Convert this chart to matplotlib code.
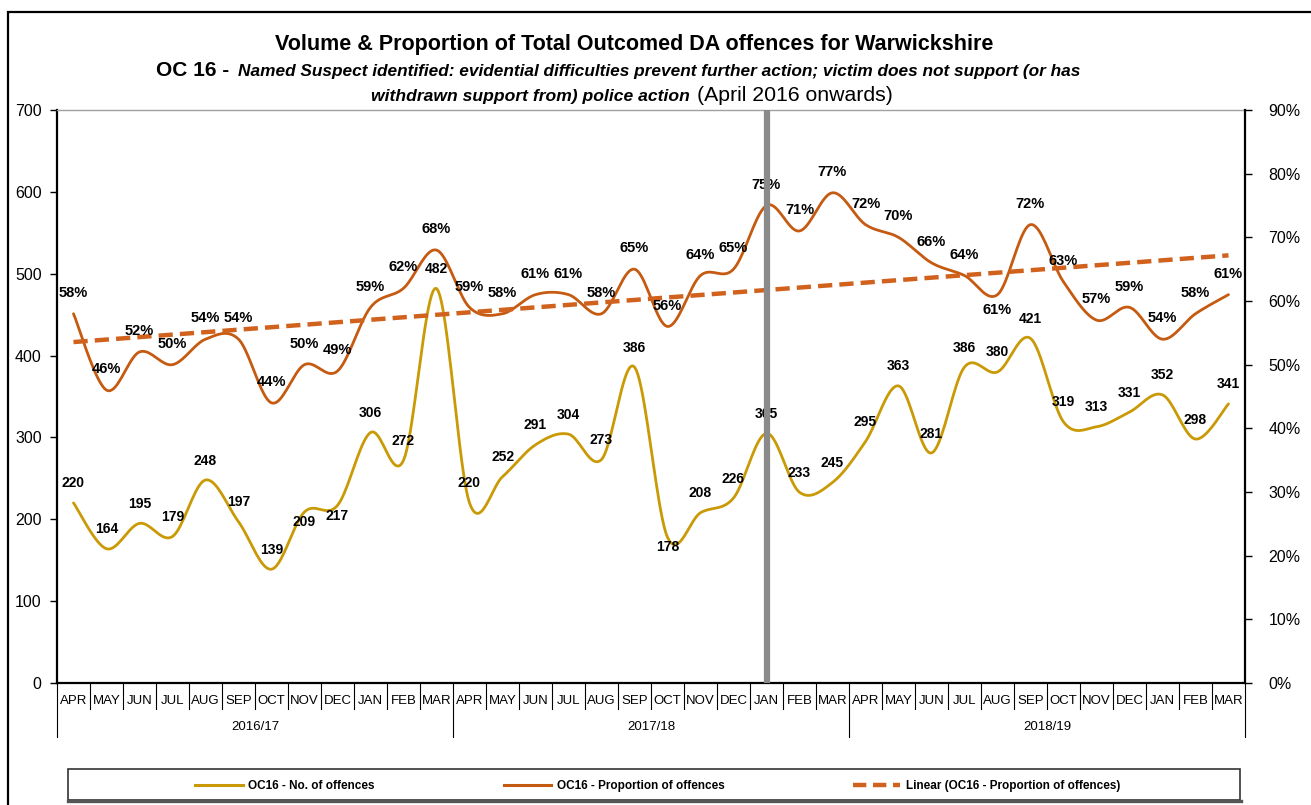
import numpy as np
import matplotlib
matplotlib.use('Agg')
import matplotlib.pyplot as plt
from matplotlib.patches import Rectangle
from matplotlib.lines import Line2D

plt.rcParams['font.family'] = ['Liberation Sans', 'DejaVu Sans']

# data, April 2016 to March 2019
months = ['APR', 'MAY', 'JUN', 'JUL', 'AUG', 'SEP', 'OCT', 'NOV', 'DEC', 'JAN', 'FEB', 'MAR'] * 3
years = ['2016/17', '2017/18', '2018/19']
offences = [220, 164, 195, 179, 248, 197, 139, 209, 217, 306, 272, 482,
            220, 252, 291, 304, 273, 386, 178, 208, 226, 305, 233, 245,
            295, 363, 281, 386, 380, 421, 319, 313, 331, 352, 298, 341]
proportion = [58, 46, 52, 50, 54, 54, 44, 50, 49, 59, 62, 68,
              59, 58, 61, 61, 58, 65, 56, 64, 65, 75, 71, 77,
              72, 70, 66, 64, 61, 72, 63, 57, 59, 54, 58, 61]

GOLD = '#C99A06'
ORANGE = '#C55A11'
TREND = '#D0621E'
W, H = 1311, 805


def smooth(xs, ys, steps=20):
    # bezier curve through the points, same idea as Excel's "smoothed line"
    xs = np.asarray(xs, float)
    ys = np.asarray(ys, float)
    px = np.concatenate([[xs[0]], xs, [xs[-1]]])
    py = np.concatenate([[ys[0]], ys, [ys[-1]]])
    t = np.linspace(0, 1, steps, endpoint=False)
    cx, cy = [], []
    for i in range(1, len(px) - 2):
        x1, y1 = px[i] + (px[i + 1] - px[i - 1]) / 6, py[i] + (py[i + 1] - py[i - 1]) / 6
        x2, y2 = px[i + 1] - (px[i + 2] - px[i]) / 6, py[i + 1] - (py[i + 2] - py[i]) / 6
        a, b, c, d = (1 - t) ** 3, 3 * (1 - t) ** 2 * t, 3 * (1 - t) * t ** 2, t ** 3
        cx.extend(a * px[i] + b * x1 + c * x2 + d * px[i + 1])
        cy.extend(a * py[i] + b * y1 + c * y2 + d * py[i + 1])
    cx.append(xs[-1])
    cy.append(ys[-1])
    return np.array(cx), np.array(cy)


def rich_line(fig, y_px, parts, center_px=632):
    # several text styles on one line, centred as a whole
    r = fig.canvas.get_renderer()
    texts = []
    for s, gap, kw in parts:
        t = fig.text(0, 1 - y_px / H, s, va='baseline', ha='left', **kw)
        texts.append((t, gap))
    widths = [t.get_window_extent(r).width + g for t, g in texts]
    x = center_px - sum(widths) / 2
    for (t, g), w in zip(texts, widths):
        t.set_x(x / W)
        x += w


fig = plt.figure(figsize=(W / 100, H / 100), dpi=100)
ax = fig.add_axes([57 / W, (H - 683) / H, (1245 - 57) / W, (683 - 110) / H])
ax2 = ax.twinx()

x = np.arange(len(months))

sx, sy = smooth(x, offences)
ax.plot(sx, sy, color=GOLD, lw=2.0, solid_capstyle='round')
sx, sy = smooth(x, proportion)
ax2.plot(sx, sy, color=ORANGE, lw=2.0, solid_capstyle='round')

m, c = np.polyfit(x, proportion, 1)
ax2.plot(x, m * x + c, color=TREND, lw=3.2, dashes=(3.2, 1.6))

ax2.axvline(21, color='#8a8a8a', lw=4.5, zorder=10)

ax.set_xlim(-0.5, len(months) - 0.5)
ax.set_ylim(0, 700)
ax2.set_ylim(0, 90)
ax.set_yticks(range(0, 701, 100))
ax2.set_yticks(range(0, 91, 10))
ax2.set_yticklabels([f'{v}%' for v in range(0, 91, 10)])
ax.set_xticks([])
ax.tick_params(axis='y', labelsize=11.5, length=5, width=1, pad=6)
ax2.tick_params(axis='y', labelsize=11.5, length=5, width=1, pad=12)

for s in ['left', 'bottom']:
    ax.spines[s].set_linewidth(1.6)
ax.spines['right'].set_visible(False)
ax.spines['top'].set_color('#a0a0a0')
ax.spines['top'].set_linewidth(1.0)
ax2.spines['right'].set_linewidth(1.6)
for s in ['left', 'bottom', 'top']:
    ax2.spines[s].set_visible(False)

# data labels
count_dy = {7: -7, 8: -8, 18: -7}
for i, v in enumerate(offences):
    ax2.annotate(str(v), xy=(i, v), xycoords=ax.transData, xytext=(0, count_dy.get(i, 14)),
                 textcoords='offset points', ha='center', va='center',
                 fontsize=10, fontweight='bold', zorder=5)
prop_dy = {28: -11}
for i, v in enumerate(proportion):
    ax2.annotate(f'{v}%', xy=(i, v), xytext=(0, prop_dy.get(i, 15)),
                 textcoords='offset points', ha='center', va='center',
                 fontsize=10.5, fontweight='bold', zorder=5)

# month / year axis with separators
bt = ax.get_xaxis_transform()
ah = 683 - 110
for k in range(len(months) + 1):
    low = -54 / ah if k % 12 == 0 else -26 / ah
    ax.plot([k - 0.5, k - 0.5], [0, low], color='black', lw=0.8, transform=bt, clip_on=False)
for i, mo in enumerate(months):
    ax.text(i, -18 / ah, mo, transform=bt, ha='center', va='center', fontsize=9.5)
for j, yr in enumerate(years):
    ax.text(12 * j + 5.5, -44 / ah, yr, transform=bt, ha='center', va='center', fontsize=9.5)

# titles
rich_line(fig, 50, [('Volume & Proportion of Total Outcomed DA offences for Warwickshire', 0,
                     dict(fontsize=15.5, fontweight='bold'))], center_px=634)
rich_line(fig, 76, [('OC 16 -', 9, dict(fontsize=15, fontweight='bold')),
                    ('Named Suspect identified: evidential difficulties prevent further action; '
                     'victim does not support (or has', 0,
                     dict(fontsize=12.4, fontweight='bold', style='italic'))], center_px=618)
rich_line(fig, 101, [('withdrawn support from) police action', 7,
                      dict(fontsize=12.6, fontweight='bold', style='italic')),
                     ('(April 2016 onwards)', 0, dict(fontsize=15.3))])

# legend
handles = [Line2D([], [], color=GOLD, lw=2.2),
           Line2D([], [], color=ORANGE, lw=2.2),
           Line2D([], [], color=TREND, lw=3.2, dashes=(3.0, 1.5))]
labels = ['OC16 - No. of offences', 'OC16 - Proportion of offences',
          'Linear (OC16 - Proportion of offences)']
fig.legend(handles, labels, loc='center', bbox_to_anchor=(658 / W, 1 - 786 / H), ncol=3,
           frameon=False, prop=dict(size=8.5, weight='bold'), handlelength=4.0,
           handletextpad=0.5, columnspacing=10.9, borderpad=0, borderaxespad=0)
fig.patches.append(Rectangle((68 / W, 1 - 800 / H), (1240 - 68) / W, 31 / H,
                             transform=fig.transFigure, fill=False, ec='#333333', lw=1.2))
fig.add_artist(Line2D([68 / W, 1241 / W], [1 - 800.5 / H, 1 - 800.5 / H],
                      transform=fig.transFigure, color='#555555', lw=2.4))
fig.patches.append(Rectangle((8 / W, -0.1), 1.2, 0.1 + (H - 12) / H,
                             transform=fig.transFigure, fill=False, ec='black', lw=1.6))

fig.savefig('out.png', dpi=100)
